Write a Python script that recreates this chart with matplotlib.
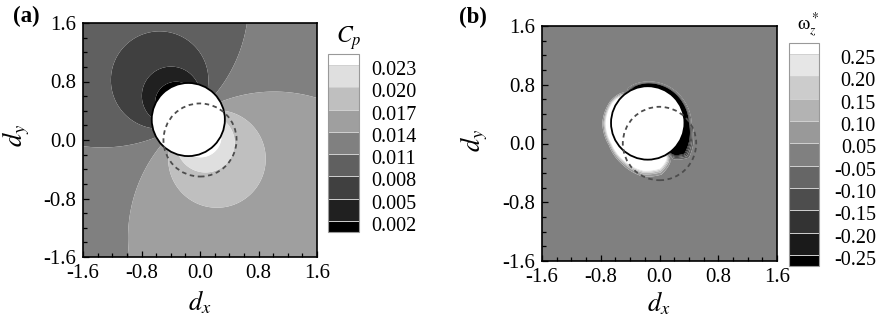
import numpy as np
import matplotlib
matplotlib.use("Agg")
import matplotlib.pyplot as plt
from matplotlib.patches import Circle
from matplotlib.ticker import MultipleLocator
from matplotlib.transforms import ScaledTranslation

plt.rcParams['font.family'] = ['Liberation Serif', 'DejaVu Serif']
plt.rcParams['mathtext.fontset'] = 'stix'
plt.rcParams['axes.unicode_minus'] = False

# === Values ===
AXIS_TICKS = [-1.6, -0.8, 0.0, 0.8, 1.6]
AXIS_TICK_LABELS = ['-1.6', '-0.8', '0.0', '0.8', '1.6']

CP_LEVELS = [0.002, 0.005, 0.008, 0.011, 0.014, 0.017, 0.020, 0.023]
CP_TICK_LABELS = ['0.002', '0.005', '0.008', '0.011', '0.014', '0.017', '0.020', '0.023']
CP_GRAYS = [0.0, 0.125, 0.25, 0.375, 0.5, 0.625, 0.75, 0.875, 1.0]

WZ_LEVELS = [-0.25, -0.20, -0.15, -0.10, -0.05, 0.05, 0.10, 0.15, 0.20, 0.25]
WZ_TICK_LABELS = ['-0.25', '-0.20', '-0.15', '-0.10', '-0.05', '0.05', '0.10', '0.15', '0.20', '0.25']
WZ_GRAYS = [0.0, 0.1, 0.2, 0.3, 0.4, 0.5, 0.6, 0.7, 0.8, 0.9, 1.0]

# cylinder: current position (solid) and start position (dashed)
BODY_NOW = (-0.16, 0.28)
BODY_START = (0.0, 0.0)
BODY_RADIUS = 0.5

# Cp around the body: far-field level and dipole strength / direction (deg)
CP_FAR = 0.0125
CP_DIPOLE = 0.006
CP_DIPOLE_ANGLE = -54

# vorticity sheet on the body surface, by angle (deg from +x)
SHEET_ANGLE = [-180, -150, -120, -95, -75, -62, -52, -40, -25, 0, 30, 60, 90, 110, 125, 150]
SHEET_PEAK = [0.6, 0.6, 0.8, 0.8, 0.7, 0.3, -0.3, -0.8, -0.8, -0.7, -0.7, -0.7, -0.7, -0.4, 0.0, 0.5]
SHEET_WIDTH = [0.075, 0.07, 0.1, 0.14, 0.14, 0.1, 0.1, 0.14, 0.11, 0.06, 0.05, 0.045, 0.04, 0.04, 0.04, 0.06]

W, H = 882, 324


def fx(px):
    return px / W


def fy(py):
    return 1 - py / H


# === Fields ===
grid = np.linspace(-1.6, 1.6, 801)
X, Y = np.meshgrid(grid, grid)
dx = X - BODY_NOW[0]
dy = Y - BODY_NOW[1]
r = np.hypot(dx, dy)
inside = r < BODY_RADIUS * 0.98

a = np.radians(CP_DIPOLE_ANGLE)
r2 = np.maximum(r, 1e-6) ** 2
cp = CP_FAR + CP_DIPOLE * (dx * np.cos(a) + dy * np.sin(a)) / r2
cp[inside] = np.nan

theta = np.degrees(np.arctan2(dy, dx))
peak = np.interp(theta, SHEET_ANGLE, SHEET_PEAK, period=360)
width = np.interp(theta, SHEET_ANGLE, SHEET_WIDTH, period=360)
s = np.clip(r - BODY_RADIUS, 0, None)
wz = peak * np.exp(-(s / width) ** 2)
wz[inside] = np.nan


def setup_axes(ax):
    ax.set_xlim(-1.6, 1.6)
    ax.set_ylim(-1.6, 1.6)
    ax.set_xticks(AXIS_TICKS)
    ax.set_yticks(AXIS_TICKS)
    ax.set_xticklabels(AXIS_TICK_LABELS)
    ax.set_yticklabels(AXIS_TICK_LABELS)
    ax.xaxis.set_minor_locator(MultipleLocator(0.2))
    ax.yaxis.set_minor_locator(MultipleLocator(0.2))
    ax.tick_params(which='both', direction='in', top=False, right=False,
                   labelsize=15, pad=5, width=0.9)
    ax.tick_params(which='major', length=4)
    ax.tick_params(which='minor', length=3)
    for sp in ax.spines.values():
        sp.set_linewidth(1.2)
    # body outlines
    ax.add_patch(Circle(BODY_NOW, BODY_RADIUS, facecolor='white', edgecolor='black',
                        linewidth=1.3, zorder=3))
    ax.add_patch(Circle(BODY_START, BODY_RADIUS, facecolor='none', edgecolor='0.3',
                        linewidth=1.3, linestyle=(0, (2.5, 2)), zorder=4))


def setup_colorbar(cb, labels, pad):
    cb.ax.set_yticklabels(labels)
    cb.ax.tick_params(length=0, pad=pad, labelsize=14.5)
    cb.outline.set_edgecolor('0.6')
    cb.outline.set_linewidth(0.8)
    cb.dividers.set_color('0.82')
    cb.dividers.set_linewidth(0.7)
    # labels sit a little below the band edges
    shift = ScaledTranslation(0, -3 / 100, fig.dpi_scale_trans)
    for lab in cb.ax.get_yticklabels():
        lab.set_transform(lab.get_transform() + shift)


fig = plt.figure(figsize=(W / 100, H / 100), dpi=100)

# === (a) pressure coefficient ===
ax1 = fig.add_axes([fx(83), fy(257), fx(234), 234 / H])
cs1 = ax1.contourf(X, Y, cp, levels=CP_LEVELS, colors=[str(g) for g in CP_GRAYS],
                   extend='both', antialiased=True)
setup_axes(ax1)
cax1 = fig.add_axes([fx(328), fy(232), fx(31), 178 / H])
cb1 = fig.colorbar(cs1, cax=cax1, ticks=CP_LEVELS, extendrect=True,
                   extendfrac=0.5 / 7, drawedges=True)
setup_colorbar(cb1, CP_TICK_LABELS, 9)

fig.text(fx(26), fy(16), '(a)', fontsize=16.5, fontweight='bold', ha='center', va='center')
fig.text(fx(200), fy(302), '$d_x$', fontsize=19, ha='center', va='center')
fig.text(fx(16), fy(135), '$d_y$', fontsize=19, ha='center', va='center', rotation=90)
fig.text(fx(349), fy(38), '$C_p$', fontsize=17, ha='center', va='center')

# === (b) vorticity ===
ax2 = fig.add_axes([fx(542), fy(261), fx(235), 235 / H])
cs2 = ax2.contourf(X, Y, wz, levels=WZ_LEVELS, colors=[str(g) for g in WZ_GRAYS],
                   extend='both', antialiased=True)
setup_axes(ax2)
cax2 = fig.add_axes([fx(789), fy(266), fx(30), 223 / H])
cb2 = fig.colorbar(cs2, cax=cax2, ticks=WZ_LEVELS, extendrect=True,
                   extendfrac=0.5 / 9, drawedges=True)
setup_colorbar(cb2, WZ_TICK_LABELS, 41)
for lab in cb2.ax.get_yticklabels():
    lab.set_horizontalalignment('right')

fig.text(fx(473), fy(17), '(b)', fontsize=16.5, fontweight='bold', ha='center', va='center')
fig.text(fx(659), fy(303), '$d_x$', fontsize=19, ha='center', va='center')
fig.text(fx(474), fy(140), '$d_y$', fontsize=19, ha='center', va='center', rotation=90)
fig.text(fx(808), fy(25), r'$\mathrm{\omega}_z^*$', fontsize=14, ha='center', va='center')

fig.savefig('out.png', dpi=100, facecolor='white')
